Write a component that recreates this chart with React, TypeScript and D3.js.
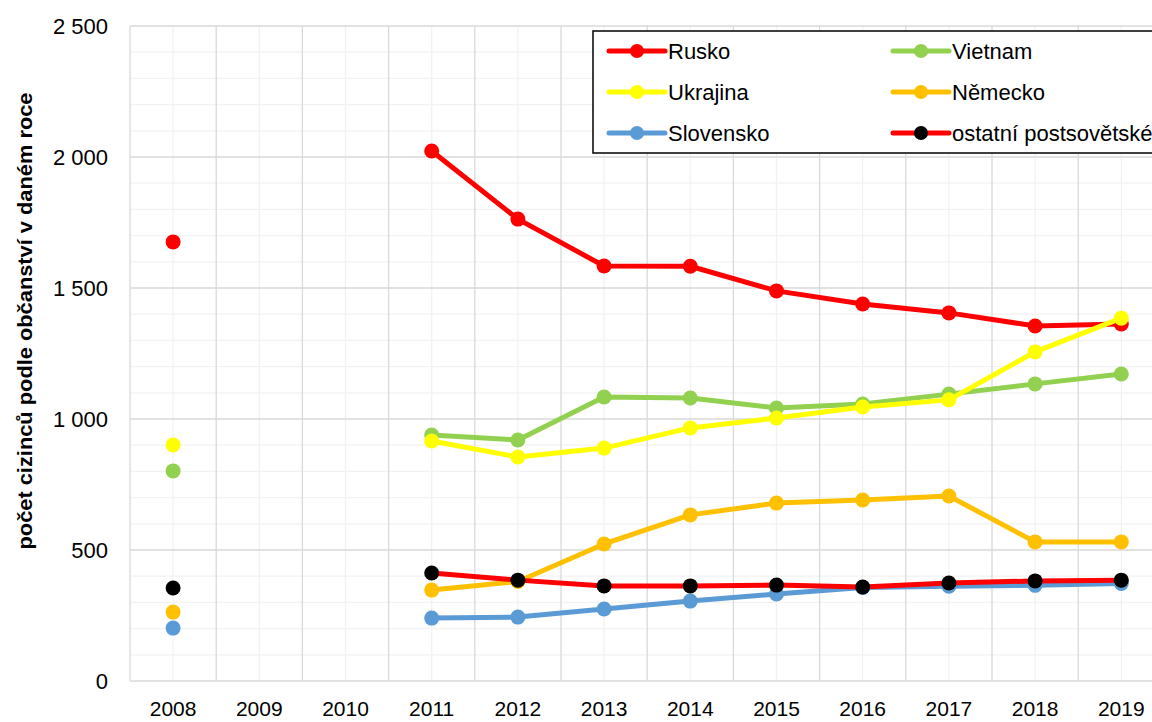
import * as d3 from "d3";

const years = ["2008", "2009", "2010", "2011", "2012", "2013", "2014", "2015", "2016", "2017", "2018", "2019"];
const yTicks = [0, 500, 1000, 1500, 2000, 2500];

// null = no data for that year
const rusko = [1676, null, null, 2023, 1763, 1584, 1583, 1489, 1439, 1405, 1355, 1363];
const vietnam = [802, null, null, 939, 920, 1084, 1080, 1042, 1057, 1095, 1134, 1172];
const ukrajina = [901, null, null, 916, 855, 889, 966, 1004, 1046, 1073, 1256, 1385];
const nemecko = [263, null, null, 347, 380, 523, 634, 679, 691, 706, 531, 531];
const slovensko = [202, null, null, 240, 244, 275, 305, 332, 357, 362, 365, 372];
const ostatni = [355, null, null, 412, 385, 363, 363, 366, 359, 374, 382, 385];

type Series = { name: string; values: (number | null)[]; line: string; marker: string };

// drawing order follows the Excel series order
const series: Series[] = [
  { name: "Rusko", values: rusko, line: "#FF0000", marker: "#FF0000" },
  { name: "Vietnam", values: vietnam, line: "#92D050", marker: "#92D050" },
  { name: "Ukrajina", values: ukrajina, line: "#FFFF00", marker: "#FFFF00" },
  { name: "Německo", values: nemecko, line: "#FFC000", marker: "#FFC000" },
  { name: "Slovensko", values: slovensko, line: "#5B9BD5", marker: "#5B9BD5" },
  { name: "ostatní postsovětské", values: ostatni, line: "#FF0000", marker: "#000000" },
];

const W = 1152;
const H = 722;
const left = 130;
const top = 26;
const bottom = 681;
const step = 86.2;
const font = "'Liberation Sans', Arial, sans-serif";

const App = () => {
  const x = d3
    .scaleBand<string>()
    .domain(years)
    .range([left, left + step * years.length]);
  const cx = (yr: string) => (x(yr) ?? 0) + x.bandwidth() / 2;
  const y = d3.scaleLinear().domain([0, 2500]).range([bottom, top]);

  const minor = d3.range(100, 2501, 100).filter((v) => v % 500 !== 0);

  const line = d3
    .line<number | null>()
    .defined((d) => d !== null)
    .x((_, i) => cx(years[i]))
    .y((d) => y(d as number));

  // legend layout: two columns, three rows
  const legX = [609, 893];
  const legY = [51, 92, 133];

  return (
    <svg
      width={W}
      height={H}
      style={{ position: "absolute", left: 0, top: 0, background: "#fff" }}
      fontFamily={font}
    >
      {/* minor grid */}
      {minor.map((v) => (
        <line key={"mh" + v} x1={left} x2={W} y1={y(v)} y2={y(v)} stroke="#F2F2F2" strokeWidth={1.3} />
      ))}
      {years.map((yr) => (
        <line key={"mv" + yr} x1={cx(yr)} x2={cx(yr)} y1={top} y2={bottom} stroke="#F2F2F2" strokeWidth={1.3} />
      ))}
      {/* major grid */}
      {yTicks.map((v) => (
        <line key={"h" + v} x1={left} x2={W} y1={y(v)} y2={y(v)} stroke="#D9D9D9" strokeWidth={1.3} />
      ))}
      {years.map((yr) => (
        <line key={"v" + yr} x1={x(yr)} x2={x(yr)} y1={top} y2={bottom} stroke="#D9D9D9" strokeWidth={1.3} />
      ))}

      {/* y axis labels */}
      {yTicks.map((v) => (
        <text key={"yt" + v} x={108} y={y(v)} dy="0.36em" textAnchor="end" fontSize={22} fill="#000">
          {d3.format(",")(v).replace(/,/g, " ")}
        </text>
      ))}
      {/* x axis labels */}
      {years.map((yr) => (
        <text key={"xt" + yr} x={cx(yr)} y={716} textAnchor="middle" fontSize={21} fill="#000">
          {yr}
        </text>
      ))}

      {/* y title */}
      <text
        transform="translate(32,321) rotate(-90)"
        textAnchor="middle"
        fontSize={21}
        fontWeight="bold"
        textLength={457}
        lengthAdjust="spacingAndGlyphs"
      >
        počet cizinců podle občanství v daném roce
      </text>

      {/* series */}
      {series.map((s) => (
        <g key={s.name}>
          <path d={line(s.values) ?? ""} fill="none" stroke={s.line} strokeWidth={5} strokeLinejoin="round" />
          {s.values.map((v, i) =>
            v === null ? null : <circle key={i} cx={cx(years[i])} cy={y(v)} r={7.5} fill={s.marker} />
          )}
        </g>
      ))}

      {/* legend */}
      <rect x={593} y={31} width={600} height={122} fill="#fff" stroke="#000" strokeWidth={1.5} />
      {series.map((s, i) => {
        const lx = legX[i % 2];
        const ly = legY[Math.floor(i / 2)];
        return (
          <g key={"lg" + s.name}>
            <line x1={lx} x2={lx + 56} y1={ly} y2={ly} stroke={s.line} strokeWidth={5} strokeLinecap="round" />
            <circle cx={lx + 28} cy={ly} r={7} fill={s.marker} />
            <text x={lx + 59} y={ly} dy="0.36em" fontSize={22} fill="#000">
              {s.name}
            </text>
          </g>
        );
      })}
    </svg>
  );
};

export default App;
